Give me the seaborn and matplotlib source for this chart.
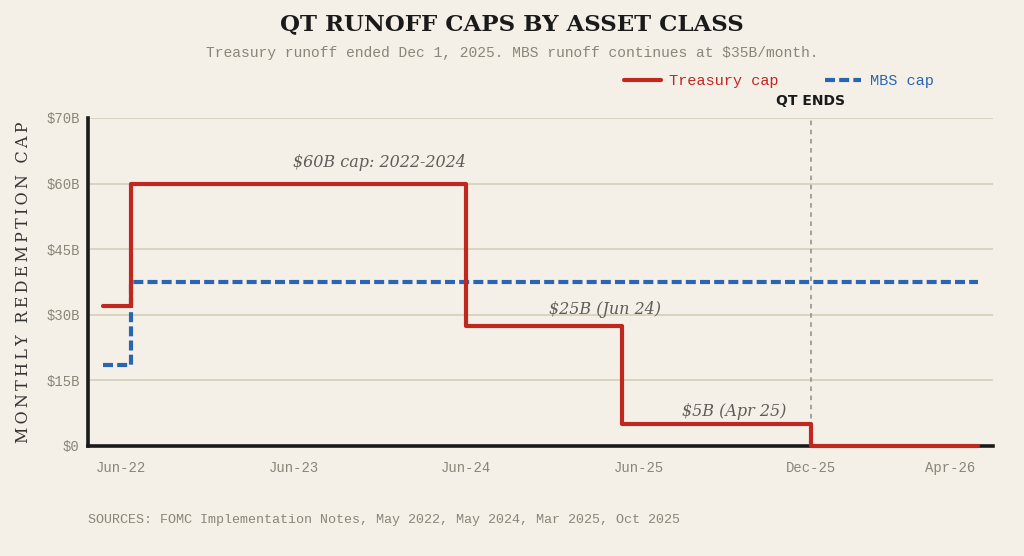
import numpy as np
import pandas as pd
import matplotlib
matplotlib.use("Agg")
import matplotlib.pyplot as plt
import seaborn as sns

# positions on the (uneven) time axis, one unit per tick gap
tick_pos = [0, 1, 2, 3, 4, 4.806]
tick_labels = ["Jun-22", "Jun-23", "Jun-24", "Jun-25", "Dec-25", "Apr-26"]

tsy_x = [-0.104, 0.058, 2.0, 2.904, 4.0, 4.968]
tsy_cap = [32, 60, 27.5, 5, 0, 0]

mbs_x = [-0.104, 0.058, 4.968]
mbs_cap = [18.5, 37.5, 37.5]

y_ticks = [0, 15, 30, 45, 60, 75]
y_labels = ["$0", "$15B", "$30B", "$45B", "$60B", "$70B"]

qt_end = 4.0

bg = "#f4f0e8"
red = "#c0271f"
blue = "#2a66b0"
grey = "#8a8578"
mono = "Liberation Mono"

sns.set_theme(style="white")
plt.rcParams["font.family"] = ["DejaVu Sans"]

tsy = pd.DataFrame({"x": tsy_x, "cap": tsy_cap})
mbs = pd.DataFrame({"x": mbs_x, "cap": mbs_cap})

fig = plt.figure(figsize=(10.24, 5.56), dpi=100, facecolor=bg)
ax = fig.add_axes([88 / 1024, 1 - 446 / 556, 905 / 1024, 328 / 556])
ax.set_facecolor(bg)

for yv in y_ticks:
    ax.axhline(yv, color="#d9d3bf", lw=1.4, zorder=0)

ax.vlines(qt_end, 0, 75, colors="#8c8c8c", linestyles=(0, (3, 3)), lw=1.1, zorder=1)

sns.lineplot(data=mbs, x="x", y="cap", ax=ax, color=blue, lw=3,
             drawstyle="steps-post", dashes=False, label="MBS cap", zorder=3)
ax.lines[-1].set_dashes((2.4, 1.0))
sns.lineplot(data=tsy, x="x", y="cap", ax=ax, color=red, lw=3,
             drawstyle="steps-post", label="Treasury cap", zorder=4)
ax.lines[-1].set_clip_on(False)

ax.set_xlim(-0.191, 5.055)
ax.set_ylim(0, 75)
ax.set_xticks(tick_pos)
ax.set_xticklabels(tick_labels, family=mono, fontsize=10, color=grey)
ax.set_yticks(y_ticks)
ax.set_yticklabels(y_labels, family=mono, fontsize=10, color=grey)
ax.tick_params(axis="x", length=0, pad=11)
ax.tick_params(axis="y", length=0, pad=6)
ax.set_xlabel("")
ax.set_ylabel("\u2009".join("MONTHLY REDEMPTION CAP"), family=["DejaVu Serif", "DejaVu Sans"],
              fontsize=11.5, color="#333333", labelpad=10)

for s in ["top", "right"]:
    ax.spines[s].set_visible(False)
for s in ["left", "bottom"]:
    ax.spines[s].set_color("#1a1a1a")
    ax.spines[s].set_linewidth(2.6)

note = dict(family="DejaVu Serif", style="italic", fontsize=11.5, color="#5f5d58",
            ha="center", va="center")
ax.text(1.496, 64.9, "$60B cap: 2022-2024", **note)
ax.text(2.806, 31.3, "$25B (Jun 24)", **note)
ax.text(3.554, 8.0, "$5B (Apr 25)", **note)

ax.text(qt_end, 1.052, "QT ENDS", transform=ax.get_xaxis_transform(), ha="center",
        va="center", fontsize=10, fontweight="bold", color="#1a1a1a")

handles, labels = ax.get_legend_handles_labels()
order = [labels.index("Treasury cap"), labels.index("MBS cap")]
ax.legend([handles[i] for i in order], [labels[i] for i in order],
          loc="center right", bbox_to_anchor=(0.925, 1 - 81 / 556),
          bbox_transform=fig.transFigure, ncol=2, frameon=False,
          prop={"family": mono, "size": 11}, labelcolor="linecolor",
          handlelength=2.4, handletextpad=0.55, columnspacing=3.0)

fig.text(0.5, 1 - 24 / 556, "QT RUNOFF CAPS BY ASSET CLASS", ha="center", va="center",
         family="DejaVu Serif", fontweight="bold", fontsize=16.5, color="#1a1a1a")
fig.text(0.5, 1 - 53 / 556,
         "Treasury runoff ended Dec 1, 2025. MBS runoff continues at $35B/month.",
         ha="center", va="center", family=mono, fontsize=10.5, color=grey)
fig.text(88 / 1024, 1 - 520 / 556,
         "SOURCES: FOMC Implementation Notes, May 2022, May 2024, Mar 2025, Oct 2025",
         ha="left", va="center", family=mono, fontsize=9.6, color=grey)

fig.savefig("out.png", dpi=100, facecolor=bg)
